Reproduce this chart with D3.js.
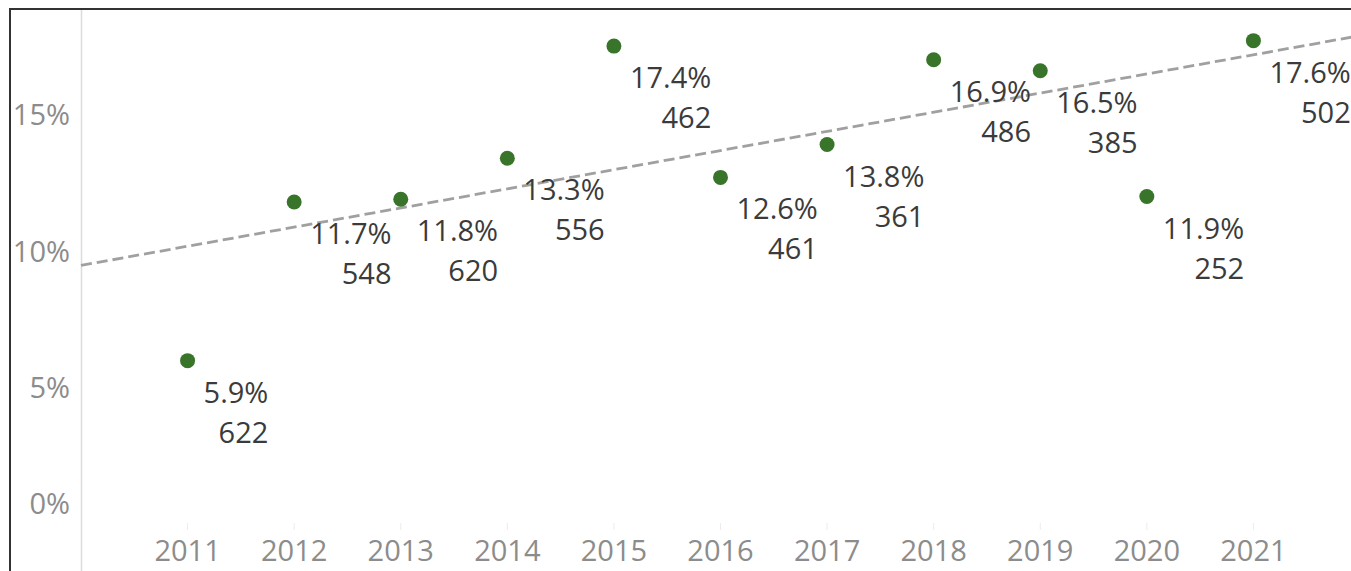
<!DOCTYPE html>
<html>
<head>
<meta charset="utf-8">
<script src="https://cdn.jsdelivr.net/npm/d3@7"></script>
<style>
  body { margin: 0; background: #fff; }
  svg { display: block; font-family: "Open Sans", sans-serif; }
</style>
</head>
<body>
<svg id="chart"></svg>
<script>
// data
var years = [2011, 2012, 2013, 2014, 2015, 2016, 2017, 2018, 2019, 2020, 2021];
var rates = [5.9, 11.7, 11.8, 13.3, 17.4, 12.6, 13.8, 16.9, 16.5, 11.9, 17.6];
var counts = [622, 548, 620, 556, 462, 461, 361, 486, 385, 252, 502];
var yTicks = [0, 5, 10, 15];

var width = 1351, height = 571;
var fontSize = 29;
var svg = d3.select("#chart").attr("width", width).attr("height", height);

// scales
var x = d3.scaleLinear().domain([2010, 2022]).range([81, 1360]);
var y = d3.scaleLinear().domain([0, 20]).range([522, -25]);

// frame
svg.append("line").attr("x1", 10).attr("x2", 10).attr("y1", 9).attr("y2", height)
  .attr("stroke", "#333").attr("stroke-width", 2);
svg.append("line").attr("x1", 9).attr("x2", width).attr("y1", 9).attr("y2", 9)
  .attr("stroke", "#333").attr("stroke-width", 2);

// y axis line
svg.append("line").attr("x1", 81.5).attr("x2", 81.5).attr("y1", 10).attr("y2", height)
  .attr("stroke", "#dcdcdc").attr("stroke-width", 1.5);

// y tick labels
svg.append("g").selectAll("text")
  .data(yTicks)
  .enter().append("text")
    .attr("x", 70)
    .attr("y", function(d) { return d === 0 ? y(d) - 8 : y(d) + 13; })
    .attr("text-anchor", "end")
    .attr("font-size", fontSize)
    .attr("fill", "#8c8c8c")
    .text(function(d) { return d + "%"; });

// x ticks + labels
var xg = svg.append("g");
xg.selectAll("line")
  .data(years)
  .enter().append("line")
    .attr("x1", function(d) { return x(d); })
    .attr("x2", function(d) { return x(d); })
    .attr("y1", 523).attr("y2", 530)
    .attr("stroke", "#ececec");
xg.selectAll("text")
  .data(years)
  .enter().append("text")
    .attr("x", function(d) { return x(d); })
    .attr("y", 561)
    .attr("text-anchor", "middle")
    .attr("font-size", fontSize)
    .attr("fill", "#8c8c8c")
    .text(function(d) { return d; });

// linear trend line (least squares)
var mx = d3.mean(years), my = d3.mean(rates);
var sxy = d3.sum(years, function(d, i) { return (d - mx) * (rates[i] - my); });
var sxx = d3.sum(years, function(d) { return (d - mx) * (d - mx); });
var slope = sxy / sxx, icpt = my - slope * mx;
var trendX = x.domain();
svg.append("line")
  .attr("x1", x(trendX[0])).attr("y1", y(icpt + slope * trendX[0]))
  .attr("x2", x(trendX[1])).attr("y2", y(icpt + slope * trendX[1]))
  .attr("stroke", "#a0a0a0")
  .attr("stroke-width", 2.8)
  .attr("stroke-dasharray", "11,5");

// points
svg.append("g").selectAll("circle")
  .data(years)
  .enter().append("circle")
    .attr("cx", function(d) { return x(d); })
    .attr("cy", function(d, i) { return y(rates[i]); })
    .attr("r", 7.5)
    .attr("fill", "#38752a");

// labels: block starts 16px right of the mark, lines right-aligned
var lab = svg.append("g").selectAll("g")
  .data(years)
  .enter().append("g");

lab.each(function(d, i) {
  var g = d3.select(this);
  var px = x(d), py = y(rates[i]);
  var t1 = g.append("text").attr("font-size", fontSize).attr("fill", "#3b3b3b")
    .attr("text-anchor", "end").attr("y", py + 42).text(rates[i].toFixed(1) + "%");
  var t2 = g.append("text").attr("font-size", fontSize).attr("fill", "#3b3b3b")
    .attr("text-anchor", "end").attr("y", py + 82).text(counts[i]);
  var w = Math.max(t1.node().getComputedTextLength(), t2.node().getComputedTextLength());
  t1.attr("x", px + 16 + w);
  t2.attr("x", px + 16 + w);
});
</script>
</body>
</html>
